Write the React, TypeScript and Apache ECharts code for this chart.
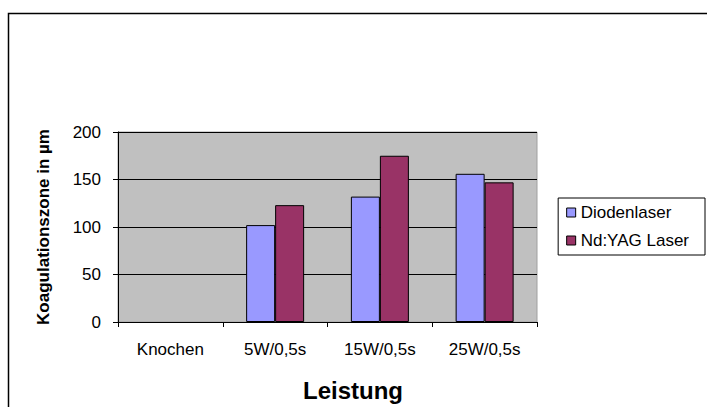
import React, { useEffect, useRef } from "react";
import * as echarts from "echarts";

const categories = ["Knochen", "5W/0,5s", "15W/0,5s", "25W/0,5s"];
const diodenlaser = [null, 102, 132, 156];
const ndYagLaser = [null, 123, 175, 147];
const yTicks = [0, 50, 100, 150, 200];

export default function App() {
  const ref = useRef<HTMLDivElement>(null);
  useEffect(() => {
    if (!ref.current) return;
    const chart = echarts.init(ref.current, null, { renderer: "svg" });
    const font = "Arial, 'Liberation Sans', sans-serif";
    chart.setOption({
      animation: false,
      backgroundColor: "#ffffff",
      grid: { left: 118, right: 170, top: 132, bottom: 85, show: true, backgroundColor: "#c0c0c0", borderColor: "#a0a0a0", borderWidth: 1 },
      legend: {
        right: 2,
        top: 198,
        orient: "vertical",
        itemWidth: 9,
        itemHeight: 9,
        itemGap: 11,
        padding: [6, 16, 6, 8],
        borderColor: "#000",
        borderWidth: 1,
        icon: "rect",
        textStyle: { fontFamily: font, fontSize: 17, color: "#000" },
        itemStyle: { borderColor: "#000", borderWidth: 1 },
        data: ["Diodenlaser", "Nd:YAG Laser"],
      },
      xAxis: {
        type: "category",
        data: categories,
        axisLine: { lineStyle: { color: "#000", width: 1 } },
        axisTick: { show: true, length: 5, lineStyle: { color: "#000" } },
        axisLabel: { fontFamily: font, fontSize: 17, color: "#000", margin: 19 },
        name: "Leistung",
        nameLocation: "middle",
        nameGap: 56,
        nameTextStyle: { fontFamily: font, fontSize: 24, fontWeight: "bold", color: "#000", padding: [0, 0, 0, 51] },
      },
      yAxis: {
        type: "value",
        min: yTicks[0],
        max: yTicks[yTicks.length - 1],
        interval: 50,
        axisLine: { show: true, lineStyle: { color: "#000", width: 1 } },
        axisTick: { show: true, length: 5, lineStyle: { color: "#000" } },
        splitLine: { lineStyle: { color: "#000", width: 1 } },
        axisLabel: { fontFamily: font, fontSize: 17, color: "#000", margin: 17 },
        name: "Koagulationszone in µm",
        nameLocation: "middle",
        nameGap: 66,
        nameTextStyle: { fontFamily: font, fontSize: 17, fontWeight: "bold", color: "#000" },
      },
      series: [
        {
          name: "Diodenlaser",
          type: "bar",
          data: diodenlaser,
          barWidth: 29,
          barGap: "0%",
          itemStyle: { color: "#9999ff", borderColor: "#000", borderWidth: 1 },
        },
        {
          name: "Nd:YAG Laser",
          type: "bar",
          data: ndYagLaser,
          barWidth: 29,
          barGap: "0%",
          itemStyle: { color: "#993366", borderColor: "#000", borderWidth: 1 },
        },
      ],
      graphic: [
        {
          type: "rect",
          shape: { x: 8.5, y: 13.5, width: 720, height: 420 },
          style: { fill: "none", stroke: "#000", lineWidth: 1.5 },
          silent: true,
        },
      ],
    });
    return () => chart.dispose();
  }, []);
  return <div ref={ref} style={{ position: "fixed", left: 0, top: 0, width: 707, height: 407 }} />;
}
